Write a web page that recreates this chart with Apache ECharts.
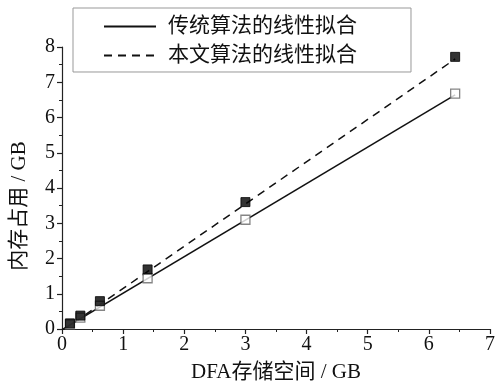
<!DOCTYPE html>
<html><head><meta charset="utf-8">
<script src="https://cdn.jsdelivr.net/npm/echarts@6/dist/echarts.min.js"></script>
<style>html,body{margin:0;padding:0;background:#fff}#c{width:498px;height:388px}</style>
</head><body><div id="c"></div>
<script>
const dfaSize = [0.13, 0.3, 0.62, 1.4, 3.0, 6.43];
const tradMem = [0.13, 0.32, 0.66, 1.44, 3.1, 6.68];
const oursMem = [0.16, 0.38, 0.79, 1.69, 3.6, 7.72];
const tradFitX = [0, 6.43];
const tradFitY = [-0.02, 6.64];
const oursFitX = [0, 6.43];
const oursFitY = [-0.05, 7.66];
const seriesNames = ['传统算法的线性拟合', '本文算法的线性拟合'];
const xTicks = [0,1,2,3,4,5,6,7];
const yTicks = [0,1,2,3,4,5,6,7,8];

const FONT = "'Liberation Serif','Noto Sans CJK SC',serif";
const pairs = (xs, ys) => xs.map((x, i) => [x, ys[i]]);
const axisCommon = {
  axisLine: {show: true, lineStyle: {color: '#222', width: 1.2}},
  axisTick: {show: true, inside: false, length: 5, lineStyle: {color: '#222', width: 1.2}},
  minorTick: {show: true, splitNumber: 2, length: 3, lineStyle: {color: '#222', width: 1}},
  splitLine: {show: false},
  axisLabel: {color: '#111', fontFamily: FONT, fontSize: 20},
  nameTextStyle: {color: '#111', fontFamily: FONT, fontSize: 21}
};
const chart = echarts.init(document.getElementById('c'));
chart.setOption({
  animation: false,
  backgroundColor: '#fff',
  grid: {left: 62, right: 8, top: 47, bottom: 55, containLabel: false},
  legend: {
    left: 73, top: 8,
    orient: 'vertical',
    data: seriesNames,
    itemWidth: 52, itemHeight: 12, itemGap: 8,
    padding: [8, 54, 6, 30],
    borderColor: '#999', borderWidth: 1,
    itemStyle: {opacity: 0},
    textStyle: {fontFamily: FONT, fontSize: 21, color: '#111', padding: [0, 0, 0, 7]}
  },
  xAxis: Object.assign({}, axisCommon, {
    type: 'value', min: xTicks[0], max: xTicks[xTicks.length - 1], interval: 1,
    name: 'DFA存储空间 / GB', nameLocation: 'middle', nameGap: 33,
    axisLabel: Object.assign({}, axisCommon.axisLabel, {margin: 6})
  }),
  yAxis: Object.assign({}, axisCommon, {
    type: 'value', min: yTicks[0], max: yTicks[yTicks.length - 1], interval: 1,
    name: '内存占用 / GB', nameLocation: 'middle', nameGap: 32,
    nameTextStyle: Object.assign({}, axisCommon.nameTextStyle, {padding: [0, 36, 0, 0]}),
    axisLabel: Object.assign({}, axisCommon.axisLabel, {margin: 7})
  }),
  series: [
    {name: seriesNames[0], type: 'line', data: pairs(tradFitX, tradFitY), symbol: 'none',
     lineStyle: {color: '#111', width: 1.5, type: 'solid'}, itemStyle: {color: '#111'}, z: 2},
    {name: seriesNames[1], type: 'line', data: pairs(oursFitX, oursFitY), symbol: 'none',
     lineStyle: {color: '#111', width: 1.5, type: [8, 6]}, itemStyle: {color: '#111'}, z: 2},
    {name: 'trad', type: 'scatter', data: pairs(dfaSize, tradMem), symbol: 'rect', symbolSize: 9,
     itemStyle: {color: '#fff', borderColor: '#666', borderWidth: 1.3}, z: 3},
    {name: 'ours', type: 'scatter', data: pairs(dfaSize, oursMem), symbol: 'rect', symbolSize: 9,
     itemStyle: {color: '#000', borderColor: '#000', borderWidth: 1}, z: 4}
  ]
});
</script></body></html>
